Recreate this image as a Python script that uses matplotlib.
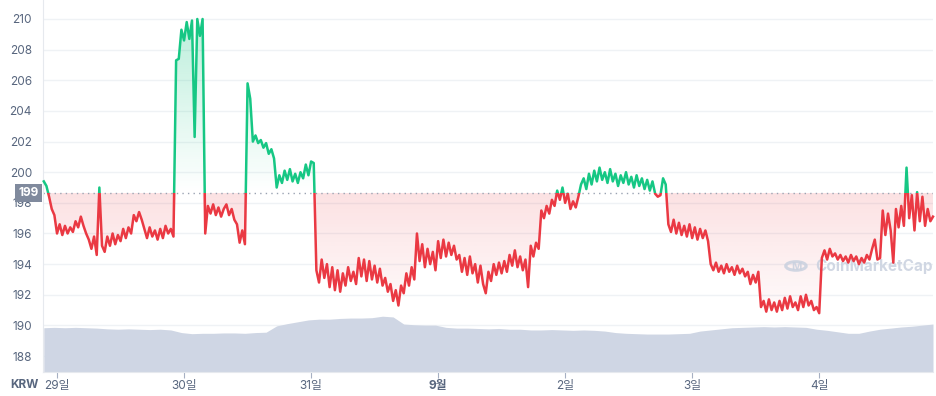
import numpy as np
import matplotlib
matplotlib.use("Agg")
import matplotlib.pyplot as plt
from matplotlib.patches import Rectangle, PathPatch, Circle
from matplotlib.path import Path
import matplotlib.transforms as mtransforms

plt.rcParams['font.family'] = ['Inter', 'Noto Sans CJK KR', 'DejaVu Sans']

# ---------------- data ----------------
price_start_hour = -2.5      # hours relative to 29th 00:00
price_step_hours = 0.5
price = [
    199.4, 199.1, 198.4, 197.6, 197.2, 196.0, 196.6, 195.9, 196.5, 196.0,
    196.4, 196.1, 196.8, 196.4, 197.1, 196.5, 196.0, 195.6, 195.0, 195.8,
    194.6, 199.0, 195.2, 194.8, 195.8, 195.2, 196.0, 195.3, 195.9, 195.5,
    196.3, 195.7, 196.4, 196.0, 197.2, 196.8, 197.4, 196.9, 196.3, 195.7,
    196.4, 195.8, 196.2, 195.6, 196.3, 195.7, 196.5, 196.0, 196.3, 195.8,
    207.3, 207.4, 209.3, 208.6, 209.8, 208.7, 209.9, 202.3, 210.0, 208.9,
    210.0, 196.0, 197.8, 197.3, 197.9, 197.2, 197.7, 197.1, 197.6, 197.9,
    197.2, 197.6, 196.9, 196.6, 195.4, 196.2, 195.3, 205.8, 204.8, 202.0,
    202.4, 201.9, 202.1, 201.6, 201.9, 201.2, 201.5, 200.9, 199.0, 199.8,
    199.3, 200.1, 199.5, 200.2, 199.4, 199.9, 199.3, 200.0, 199.6, 200.5,
    199.8, 200.7, 200.6, 193.6, 192.8, 194.3, 193.1, 194.0, 192.5, 193.8,
    192.3, 193.6, 192.2, 193.4, 192.6, 193.8, 192.9, 193.5, 192.7, 194.4,
    193.2, 194.3, 192.9, 194.2, 193.0, 193.9, 192.8, 193.7, 192.6, 193.1,
    192.2, 192.7, 191.6, 192.3, 191.3, 192.6, 192.1, 193.4, 192.6, 193.8,
    193.0, 196.0, 194.2, 195.3, 193.8, 195.0, 194.0, 194.8, 193.6, 195.5,
    194.4, 195.6, 194.5, 195.4, 194.6, 195.2, 194.3, 194.6, 193.5, 194.4,
    193.3, 194.5, 193.4, 194.0, 192.8, 193.9, 192.7, 192.1, 193.5, 192.9,
    194.0, 193.3, 194.1, 193.4, 194.2, 193.5, 194.6, 193.9, 194.9, 193.8,
    194.5, 193.6, 194.3, 192.5, 195.2, 194.5, 195.4, 195.0, 197.5, 197.0,
    197.8, 197.3, 198.2, 197.8, 198.8, 198.2, 199.0, 198.0, 198.6, 197.6,
    198.1, 197.7, 198.4, 199.2, 199.6, 198.9, 199.9, 199.2, 200.1, 199.4,
    200.3, 199.5, 200.0, 199.3, 200.2, 199.4, 199.9, 199.1, 199.8, 199.3,
    200.0, 199.2, 199.7, 199.0, 199.8, 199.1, 199.6, 198.9, 199.5, 198.8,
    199.4, 198.6, 198.4, 198.5, 199.6, 199.2, 196.6, 196.1, 196.9, 196.0,
    196.7, 195.9, 196.5, 195.8, 196.6, 195.7, 196.4, 195.6, 196.3, 195.7,
    196.2, 195.5, 194.0, 193.6, 194.1, 193.5, 193.9, 193.4, 194.0, 193.5,
    193.8, 193.3, 193.9, 193.4, 193.7, 193.2, 193.5, 192.7, 193.3, 192.8,
    193.5, 191.2, 191.6, 190.9, 191.7, 191.0, 191.5, 190.9, 191.6, 191.0,
    191.8, 191.1, 191.9, 191.2, 191.5, 191.0, 191.9, 191.2, 192.0, 191.3,
    191.6, 191.0, 191.2, 190.8, 194.4, 194.9, 194.3, 195.0, 194.5, 194.7,
    194.3, 194.6, 194.2, 194.5, 194.1, 194.6, 194.2, 194.5, 194.0, 194.4,
    194.1, 194.6, 194.3, 195.0, 195.6, 194.3, 194.4, 197.5, 195.9, 197.3,
    196.2, 194.1, 197.6, 196.4, 197.8, 196.5, 200.3, 197.0, 198.5, 196.2,
    198.7, 196.8, 198.4, 196.5, 197.6, 196.8, 197.1,
]
baseline_price = 198.65
baseline_label = "199"

volume_start_hour = -2.5
volume_step_hours = 2.0
volume = [
    11.9, 12.0, 11.9, 12.0, 11.9, 11.8,
    11.6, 11.5, 11.6, 11.5, 11.4, 11.5, 11.3,
    10.6, 10.3,
    10.4, 10.4, 10.5, 10.5, 10.4, 10.6, 10.7,
    12.4, 13.0, 13.5,
    14.0, 14.2, 14.2,
    14.4, 14.5, 14.5, 14.6,
    15.0, 14.8,
    12.9, 12.7, 12.6, 12.6,
    12.0, 11.8, 11.8, 11.7, 11.6, 11.7, 11.5, 11.5,
    11.3, 11.3, 11.4, 11.3, 11.2, 11.3, 11.2, 11.0,
    10.6, 10.4, 10.3, 10.2, 10.2, 10.2, 10.3, 10.4,
    11.0, 11.3, 11.6, 11.9, 12.0, 12.1,
    12.2, 12.1, 12.2, 12.1, 12.0,
    11.5, 11.2, 10.8,
    10.4, 10.4,
    11.0, 11.5, 11.8, 12.1, 12.3, 12.6, 12.9,
]

day_ticks_hours = [0, 24, 48, 72, 96, 120, 144]
day_labels = ["29일", "30일", "31일", "9월", "2일", "3일", "4일"]
bold_labels = ["9월"]
y_ticks = [188, 190, 192, 194, 196, 198, 200, 202, 204, 206, 208, 210]
currency = "KRW"
watermark = "CoinMarketCap"

# ---------------- styling ----------------
GREEN = "#16c784"
RED = "#ea3943"
TEXT = "#58667e"
GRID = "#eff2f5"
VOL = "#cfd6e4"

price = np.asarray(price, dtype=float)
t = price_start_hour + price_step_hours * np.arange(len(price))
volume = np.asarray(volume, dtype=float)
tv = volume_start_hour + volume_step_hours * np.arange(len(volume))

xmin, xmax = -2.65, 165.5
ymin, ymax = 186.96, 211.24

fig = plt.figure(figsize=(9.37, 3.96), dpi=100)
ax = fig.add_axes([43 / 937, 1 - 372 / 396, 890 / 937, 372 / 396])
vax = ax.twinx()
ax.set_zorder(2)
ax.patch.set_visible(False)
vax.set_zorder(1)

ax.set_xlim(xmin, xmax)
ax.set_ylim(ymin, ymax)

# grid lines drawn beneath the volume area
gtrans = mtransforms.blended_transform_factory(vax.transAxes, ax.transData)
for yt in y_ticks:
    vax.plot([0, 1], [yt, yt], transform=gtrans, color=GRID, linewidth=1, zorder=0)

# volume
vax.fill_between(tv, volume, 0, color=VOL, linewidth=0, zorder=1)
vax.set_ylim(0, 100)
vax.set_yticks([])
for s in vax.spines.values():
    s.set_visible(False)

ax.set_yticks(y_ticks)
ax.tick_params(axis='y', length=0, pad=8, labelsize=8.5, labelcolor=TEXT)
ax.tick_params(axis='x', length=4, width=0.8, color="#a6b0c3", pad=1.5,
               labelsize=8.5, labelcolor=TEXT)
ax.set_xticks(day_ticks_hours)
ax.set_xticklabels(day_labels)
for lab in ax.get_xticklabels():
    if lab.get_text() in bold_labels:
        lab.set_fontweight('bold')
for side in ['top', 'right']:
    ax.spines[side].set_visible(False)
ax.spines['left'].set_color("#e6e9ee")
ax.spines['bottom'].set_color("#e6e9ee")

# watermark (behind the price line)
ax.text(0.868, 0.285, watermark, transform=ax.transAxes, color="#c9d1df", fontsize=11,
        fontweight='bold', ha='left', va='center', alpha=0.85, zorder=1.5)
ax.add_patch(Circle((0.846, 0.285), 0.0115, transform=ax.transAxes, facecolor='none',
                    edgecolor="#c9d1df", linewidth=2.2, alpha=0.85, zorder=1.5))
ax.text(0.846, 0.283, "M", transform=ax.transAxes, color="#c9d1df", fontsize=8,
        fontweight='bold', ha='center', va='center', alpha=0.85, zorder=1.5)

# gradient fills
def clip_patch(upper, lower):
    verts = np.concatenate([np.column_stack([t, upper]),
                            np.column_stack([t[::-1], lower[::-1]])])
    p = PathPatch(Path(verts), transform=ax.transData, facecolor='none', edgecolor='none')
    ax.add_patch(p)
    return p

base_arr = np.full_like(price, baseline_price)
g_patch = clip_patch(np.maximum(price, baseline_price), base_arr)
r_patch = clip_patch(base_arr, np.minimum(price, baseline_price))

n = 256
g_img = np.zeros((n, 1, 4))
g_img[..., 0:3] = matplotlib.colors.to_rgb(GREEN)
g_img[:, 0, 3] = np.linspace(0.30, 0.0, n)   # top -> baseline
im_g = ax.imshow(g_img, extent=[xmin, xmax, baseline_price, 210.5], aspect='auto',
                 origin='upper', zorder=1, interpolation='bilinear')
im_g.set_clip_path(g_patch)

r_img = np.zeros((n, 1, 4))
r_img[..., 0:3] = matplotlib.colors.to_rgb(RED)
r_img[:, 0, 3] = np.linspace(0.15, 0.0, n)   # baseline -> bottom
im_r = ax.imshow(r_img, extent=[xmin, xmax, ymin + 2.5, baseline_price], aspect='auto',
                 origin='upper', zorder=1, interpolation='bilinear')
im_r.set_clip_path(r_patch)
ax.set_xlim(xmin, xmax)
ax.set_ylim(ymin, ymax)

# baseline
ax.axhline(baseline_price, color="#9aa3b2", linestyle=(0, (1, 3)), linewidth=1, zorder=2)

# price line, green above / red below baseline
up_rect = Rectangle((xmin - 10, baseline_price), xmax - xmin + 20, 100, transform=ax.transData)
dn_rect = Rectangle((xmin - 10, baseline_price - 100), xmax - xmin + 20, 100, transform=ax.transData)
lg, = ax.plot(t, price, color=GREEN, linewidth=1.8, zorder=3)
lg.set_clip_path(up_rect)
lr, = ax.plot(t, price, color=RED, linewidth=1.8, zorder=3)
lr.set_clip_path(dn_rect)

# baseline label box
trans = mtransforms.blended_transform_factory(ax.transAxes, ax.transData)
ax.text(-0.005, baseline_price, baseline_label, transform=trans, ha='right', va='center',
        color='white', fontsize=8.5, fontweight='bold', zorder=6, clip_on=False,
        bbox=dict(boxstyle='square,pad=0.25', facecolor='#808a9d', edgecolor='none'))

# currency
fig.text(10 / 937, 1 - 385 / 396, currency, color=TEXT, fontsize=8.5, fontweight='bold',
         ha='left', va='center')

fig.savefig("out.png", dpi=100)
